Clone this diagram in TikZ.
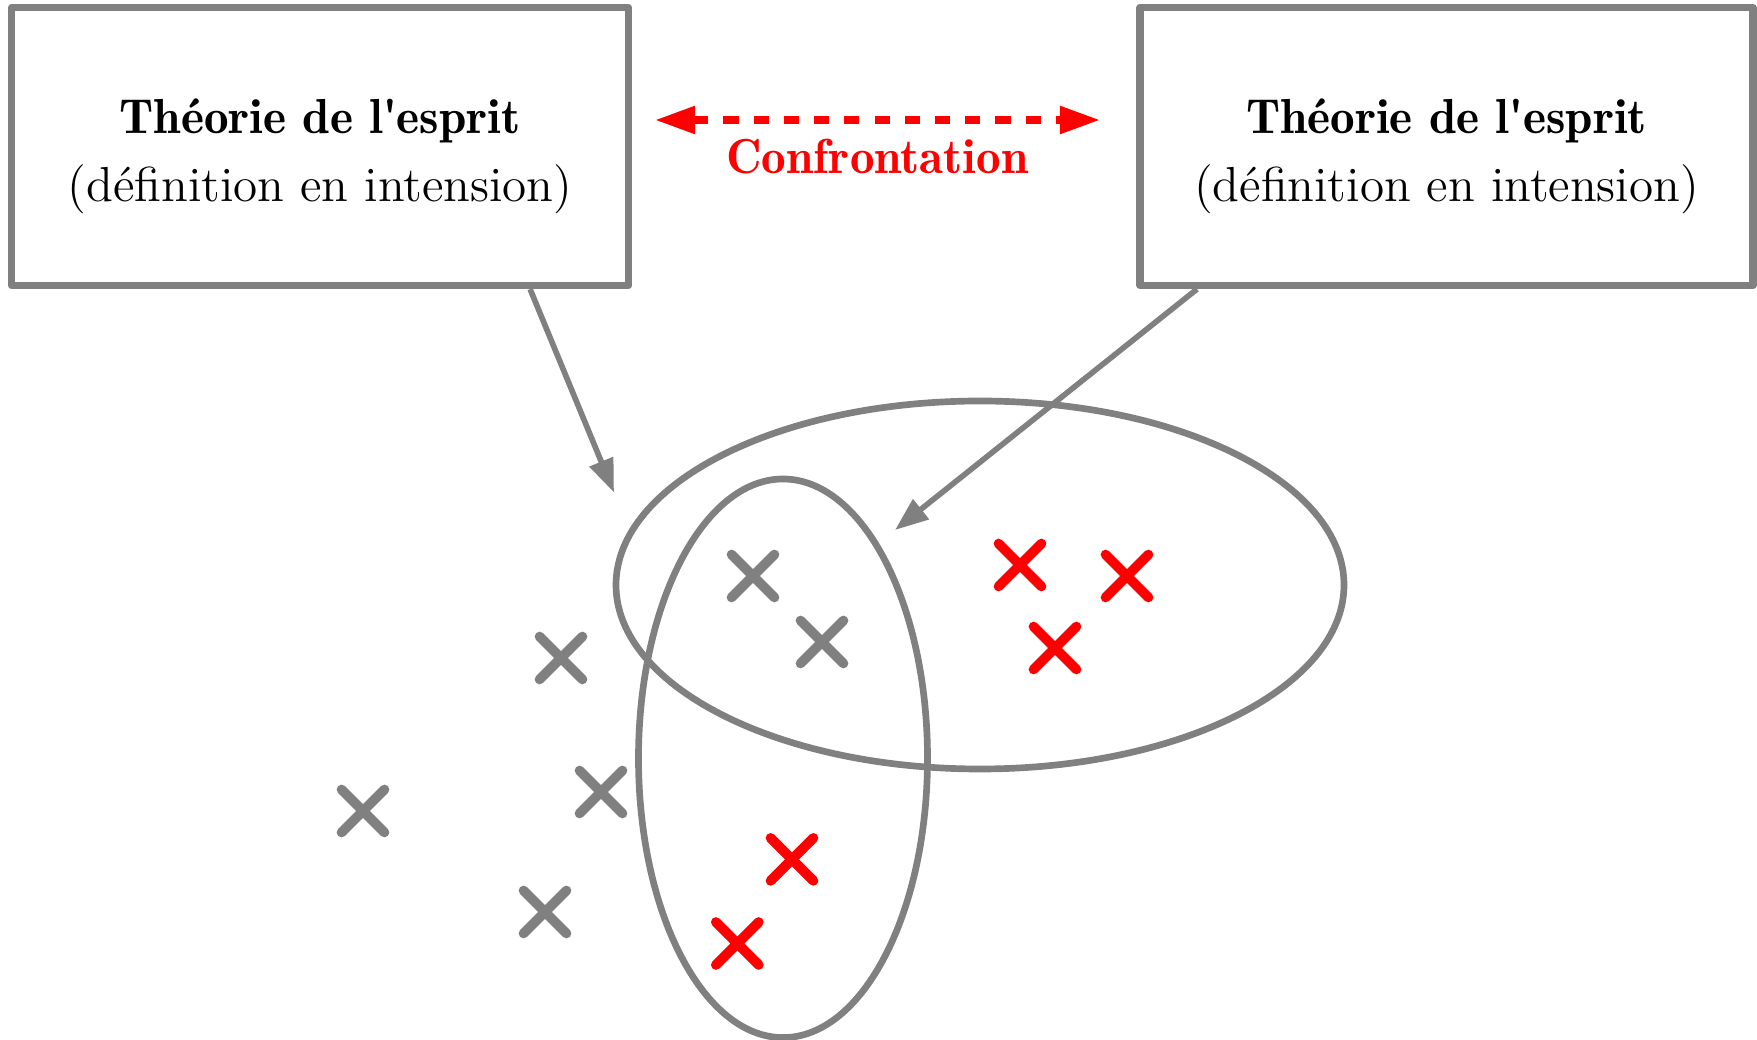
\documentclass[tikz,border=0pt]{standalone}
\usepackage{tikz}
\usetikzlibrary{arrows.meta}
\usetikzlibrary{shapes.geometric}
\usetikzlibrary{shapes.misc}

\newcommand{\demi}{\fontseries{b}\selectfont}

\begin{document}
\begin{tikzpicture}[
		theory/.style = {draw=gray, line width=2pt, line join=round, minimum height=2.78cm, inner sep=0pt},
		heading/.style = {anchor=base, font=\fontsize{14}{16}\demi},
		subheading/.style = {anchor=base, font=\fontsize{14}{16}\selectfont},
		set/.style = {draw=gray, line width=1.9pt, ellipse, inner sep=0pt},
		pointer/.style = {gray, line width=1.6pt, -{Triangle[length=9.5pt,width=7pt]}},
		grayx/.style = {cross out, draw=gray, line width=2.8pt, line cap=round, minimum size=3.3mm, inner sep=0pt},
		redx/.style = {grayx, draw=red}
			]
		\useasboundingbox (0,0) rectangle (17.57,-10.40);

		\node [theory, minimum width=6.17cm] (TheoryLeft) at (3.201,-1.466) {};
		\node [theory, minimum width=6.13cm] (TheoryRight) at (14.465,-1.466) {};

		\node [heading] (TitleLeft) at (3.20,-1.34) {Théorie de l\textquotesingle esprit};
		\node [subheading] (SubLeft) at (3.20,-2.02) {(définition en intension)};
		\node [heading] (TitleRight) at (14.465,-1.34) {Théorie de l\textquotesingle esprit};
		\node [subheading] (SubRight) at (14.465,-2.02) {(définition en intension)};

		\coordinate (ConfLeft) at (6.55,-1.20);
		\coordinate (ConfRight) at (11.00,-1.20);
		\path [red, line width=2.1pt, dash pattern=on 4.3pt off 4.3pt,
			{Triangle[length=11.4pt,width=7.5pt]}-{Triangle[length=11.4pt,width=7.5pt]}]
			(ConfLeft) edge node [below=0.4mm, font=\fontsize{14}{16}\demi] {Confrontation} (ConfRight);

		\node [set, minimum width=7.28cm, minimum height=3.68cm] (SetWide) at (9.80,-5.85) {};
		\node [set, minimum width=2.89cm, minimum height=5.586cm] (SetTall) at (7.83,-7.583) {};

		\coordinate (TipLeft) at (6.14,-4.925);
		\coordinate (TipRight) at (8.95,-5.30);
		\draw [pointer] ([xshift=2.1cm]TheoryLeft.south) -- (TipLeft);
		\draw [pointer] ([xshift=-2.495cm]TheoryRight.south) -- (TipRight);

		% gray crosses
		\node [grayx] (g1) at (7.53,-5.76) {};
		\node [grayx] (g2) at (8.22,-6.42) {};
		\node [grayx] (g3) at (5.61,-6.58) {};
		\node [grayx] (g4) at (3.63,-8.11) {};
		\node [grayx] (g5) at (6.01,-7.92) {};
		\node [grayx] (g6) at (5.45,-9.12) {};

		% red crosses
		\node [redx] (r1) at (10.20,-5.65) {};
		\node [redx] (r2) at (11.27,-5.76) {};
		\node [redx] (r3) at (10.55,-6.48) {};
		\node [redx] (r4) at (7.92,-8.594) {};
		\node [redx] (r5) at (7.373,-9.435) {};

	\end{tikzpicture}
\end{document}
